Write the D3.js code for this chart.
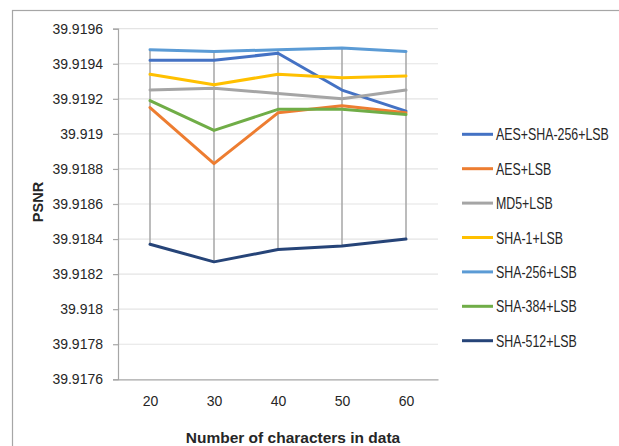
<!DOCTYPE html>
<html>
<head>
<meta charset="utf-8">
<script src="https://cdn.jsdelivr.net/npm/d3@7"></script>
<style>
  html, body { margin: 0; padding: 0; background: #ffffff; }
  svg { display: block; }
</style>
</head>
<body>
<svg id="chart" width="619" height="446"></svg>
<script>
// Categories on the x axis
const categories = [20, 30, 40, 50, 60];

// PSNR per method
const seriesNames = [
  "AES+SHA-256+LSB", "AES+LSB", "MD5+LSB", "SHA-1+LSB",
  "SHA-256+LSB", "SHA-384+LSB", "SHA-512+LSB"
];
const aesSha256Lsb = [39.91942, 39.91942, 39.91946, 39.91925, 39.91913];
const aesLsb       = [39.91915, 39.91883, 39.91912, 39.91916, 39.91912];
const md5Lsb       = [39.91925, 39.91926, 39.91923, 39.91920, 39.91925];
const sha1Lsb      = [39.91934, 39.91928, 39.91934, 39.91932, 39.91933];
const sha256Lsb    = [39.91948, 39.91947, 39.91948, 39.91949, 39.91947];
const sha384Lsb    = [39.91919, 39.91902, 39.91914, 39.91914, 39.91911];
const sha512Lsb    = [39.91837, 39.91827, 39.91834, 39.91836, 39.91840];

// Y axis ticks
const yTicks = [39.9176, 39.9178, 39.918, 39.9182, 39.9184, 39.9186,
                39.9188, 39.919, 39.9192, 39.9194, 39.9196];

const seriesValues = [aesSha256Lsb, aesLsb, md5Lsb, sha1Lsb, sha256Lsb, sha384Lsb, sha512Lsb];
const colors = ["#4472C4", "#ED7D31", "#A5A5A5", "#FFC000", "#5B9BD5", "#70AD47", "#264478"];

const series = seriesNames.map((name, i) => ({
  name,
  color: colors[i],
  values: categories.map((c, j) => ({ c, v: seriesValues[i][j] }))
}));

const svg = d3.select("#chart");
const plot = { left: 118, right: 438, top: 28.7, bottom: 379.3 };
const font = "'Liberation Sans', Arial, sans-serif";

// Chart frame
svg.append("rect")
  .attr("x", 12.5).attr("y", 10.5)
  .attr("width", 640).attr("height", 460)
  .attr("fill", "#ffffff")
  .attr("stroke", "#a6a6a6").attr("stroke-width", 1.2);

const x = d3.scalePoint()
  .domain(categories)
  .range([plot.left, plot.right])
  .padding(0.5);

const y = d3.scaleLinear()
  .domain([39.9176, 39.9196])
  .range([plot.bottom, plot.top]);

// Horizontal gridlines
svg.append("g")
  .selectAll("line")
  .data(yTicks.slice(1))
  .join("line")
  .attr("x1", plot.left).attr("x2", plot.right)
  .attr("y1", d => y(d)).attr("y2", d => y(d))
  .attr("stroke", "#e4e4e4").attr("stroke-width", 1.2);

// Y axis
const yAxis = svg.append("g")
  .attr("transform", `translate(${plot.left},0)`)
  .call(d3.axisLeft(y).tickValues(yTicks).tickFormat(d3.format(".4~f")).tickSize(5).tickPadding(10));
yAxis.select(".domain").attr("stroke", "#a6a6a6").attr("stroke-width", 1.2);
yAxis.selectAll(".tick line").attr("stroke", "#a6a6a6").attr("stroke-width", 1.2);
yAxis.selectAll(".tick text")
  .attr("fill", "#262626")
  .style("font-family", font)
  .style("font-size", "14px");

// X axis
const xAxis = svg.append("g")
  .attr("transform", `translate(0,${plot.bottom})`)
  .call(d3.axisBottom(x).tickSize(0).tickPadding(17));
xAxis.select(".domain").attr("stroke", "#a6a6a6").attr("stroke-width", 1.2);
xAxis.selectAll(".tick text")
  .attr("fill", "#262626")
  .style("font-family", font)
  .style("font-size", "14px");

// High-low lines across all series at each category
svg.append("g")
  .selectAll("line")
  .data(categories.map((c, j) => ({
    c,
    hi: d3.max(seriesValues, s => s[j]),
    lo: d3.min(seriesValues, s => s[j])
  })))
  .join("line")
  .attr("x1", d => x(d.c)).attr("x2", d => x(d.c))
  .attr("y1", d => y(d.hi)).attr("y2", d => y(d.lo))
  .attr("stroke", "#a6a6a6").attr("stroke-width", 1.5);

// Series lines
const line = d3.line().x(d => x(d.c)).y(d => y(d.v));
svg.append("g")
  .selectAll("path")
  .data(series)
  .join("path")
  .attr("d", d => line(d.values))
  .attr("fill", "none")
  .attr("stroke", d => d.color)
  .attr("stroke-width", 3)
  .attr("stroke-linejoin", "round")
  .attr("stroke-linecap", "round");

// Axis titles
svg.append("text")
  .attr("x", 293).attr("y", 443)
  .attr("text-anchor", "middle")
  .attr("fill", "#262626")
  .style("font-family", font)
  .style("font-size", "15.5px").style("font-weight", "bold")
  .text("Number of characters in data");

svg.append("text")
  .attr("transform", "translate(43,202) rotate(-90)")
  .attr("text-anchor", "middle")
  .attr("fill", "#262626")
  .style("font-family", font)
  .style("font-size", "14.5px").style("font-weight", "bold")
  .text("PSNR");

// Legend: swatch line plus a horizontally condensed label
const legend = svg.append("g")
  .selectAll("g")
  .data(series)
  .join("g")
  .attr("transform", (d, i) => `translate(462,${134.3 + i * 34.4})`);
legend.append("line")
  .attr("x1", 0).attr("x2", 31)
  .attr("stroke", d => d.color).attr("stroke-width", 3);
legend.append("g")
  .attr("transform", "translate(34,6) scale(0.75,1)")
  .append("text")
  .attr("fill", "#262626")
  .style("font-family", font)
  .style("font-size", "16.5px")
  .text(d => d.name);
</script>
</body>
</html>
